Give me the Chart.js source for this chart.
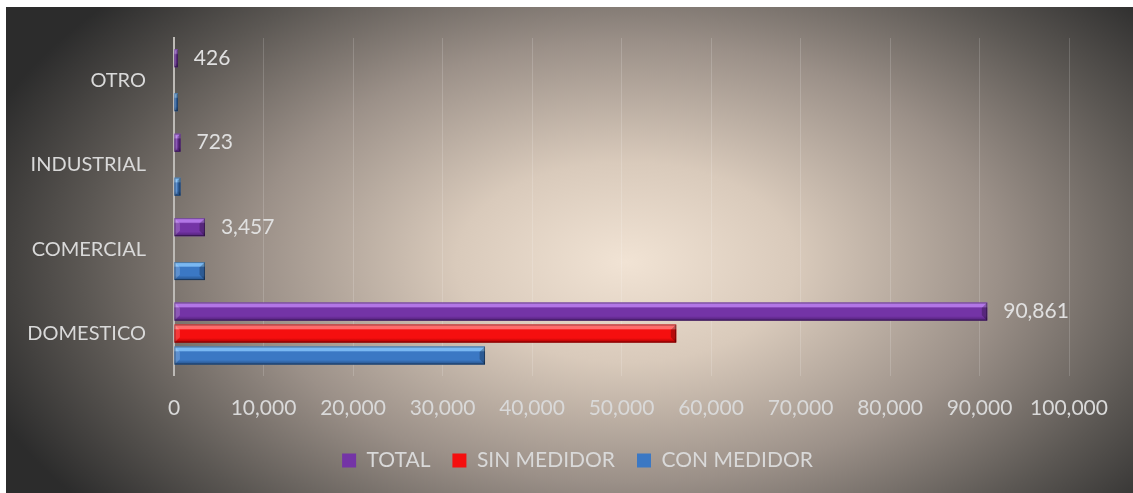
<!DOCTYPE html>
<html>
<head>
<meta charset="utf-8">
<script src="https://cdn.jsdelivr.net/npm/chart.js@4"></script>
<style>
  html, body { margin: 0; padding: 0; background: #ffffff; }
  #wrap { position: absolute; left: 6px; top: 7px; width: 1127px; height: 486px; }
</style>
</head>
<body>
<div id="wrap"><canvas id="c" width="1127" height="486"></canvas></div>
<script>
// ---- data ----
const categories = ['OTRO', 'INDUSTRIAL', 'COMERCIAL', 'DOMESTICO'];
const totalValues = [426, 723, 3457, 90861];
const sinMedidorValues = [0, 0, 0, 56111];
const conMedidorValues = [426, 723, 3457, 34750];
const xTickMin = 0;
const xTickMax = 100000;
const xTickStep = 10000;

const FONT = 'Lato, "Open Sans", sans-serif';
const TEXT = '#d9d9d9';

const palette = {
  TOTAL: { base: '#7434a6', light: '#b276e6', dark: '#4e1f74' },
  SIN: { base: '#f50f0f', light: '#ff6b6b', dark: '#a80000' },
  CON: { base: '#3b78c4', light: '#7ab8f2', dark: '#244f85' }
};

const bgPlugin = {
  id: 'bg',
  beforeDraw(chart) {
    const { ctx, width, height } = chart;
    ctx.save();
    const cx = 620, cy = 255, rx = 680, ry = 400;
    ctx.translate(cx, cy);
    ctx.scale(1, ry / rx);
    const g = ctx.createRadialGradient(0, 0, 0, 0, 0, rx);
    g.addColorStop(0, '#f1e3d4');
    g.addColorStop(0.25, '#d9cabb');
    g.addColorStop(0.55, '#9b9088');
    g.addColorStop(0.8, '#5b5753');
    g.addColorStop(1, '#2c2c2c');
    ctx.fillStyle = g;
    ctx.fillRect(-cx - 10, -(cy + 10) * rx / ry, width + 20, (height + 20) * rx / ry);
    ctx.restore();
  }
};

const legendShift = {
  id: 'legendShift',
  afterLayout(chart) {
    if (chart.legend) {
      chart.legend.left += 40;
      chart.legend.right += 40;
    }
  }
};

const bevelPlugin = {
  id: 'bevel',
  afterDatasetsDraw(chart) {
    const ctx = chart.ctx;
    chart.data.datasets.forEach((ds, di) => {
      const meta = chart.getDatasetMeta(di);
      const pal = ds._pal;
      meta.data.forEach((el) => {
        const p = el.getProps(['x', 'y', 'base', 'height'], true);
        const left = Math.min(p.base, p.x), right = Math.max(p.base, p.x);
        const top = p.y - p.height / 2, h = p.height;
        const w = right - left;
        if (w < 1) return;
        ctx.save();
        const g = ctx.createLinearGradient(0, top, 0, top + h);
        g.addColorStop(0, pal.light);
        g.addColorStop(0.22, pal.light);
        g.addColorStop(0.3, pal.base);
        g.addColorStop(0.75, pal.base);
        g.addColorStop(1, pal.dark);
        ctx.fillStyle = g;
        ctx.fillRect(left, top, w, h);
        const b = Math.min(h * 0.3, w / 2);
        ctx.fillStyle = 'rgba(255,255,255,0.18)';
        ctx.beginPath();
        ctx.moveTo(left, top); ctx.lineTo(left + b, top + b); ctx.lineTo(left + b, top + h - b); ctx.lineTo(left, top + h); ctx.closePath();
        ctx.fill();
        ctx.fillStyle = 'rgba(0,0,0,0.25)';
        ctx.beginPath();
        ctx.moveTo(right, top); ctx.lineTo(right - b, top + b); ctx.lineTo(right - b, top + h - b); ctx.lineTo(right, top + h); ctx.closePath();
        ctx.fill();
        ctx.strokeStyle = 'rgba(0,0,0,0.35)';
        ctx.lineWidth = 1;
        ctx.strokeRect(left + 0.5, top + 0.5, Math.max(w - 1, 0), h - 1);
        ctx.restore();
      });
    });
  }
};

const labelPlugin = {
  id: 'vals',
  afterDatasetsDraw(chart) {
    const ctx = chart.ctx;
    const meta = chart.getDatasetMeta(0);
    ctx.save();
    ctx.font = '21px ' + FONT;
    ctx.fillStyle = '#e0e0e0';
    ctx.textAlign = 'left';
    ctx.textBaseline = 'middle';
    meta.data.forEach((el, i) => {
      const p = el.getProps(['x', 'y'], true);
      ctx.fillText(totalValues[i].toLocaleString('en-US'), p.x + 16, p.y);
    });
    ctx.restore();
  }
};

new Chart(document.getElementById('c'), {
  type: 'bar',
  data: {
    labels: categories,
    datasets: [
      { label: 'TOTAL', data: totalValues, backgroundColor: palette.TOTAL.base, _pal: palette.TOTAL },
      { label: 'SIN MEDIDOR', data: sinMedidorValues, backgroundColor: palette.SIN.base, _pal: palette.SIN },
      { label: 'CON MEDIDOR', data: conMedidorValues, backgroundColor: palette.CON.base, _pal: palette.CON }
    ]
  },
  options: {
    indexAxis: 'y',
    responsive: false,
    animation: false,
    categoryPercentage: 0.78,
    barPercentage: 0.82,
    layout: { padding: { top: 31, right: 64, left: 0, bottom: 12 } },
    plugins: {
      legend: {
        position: 'bottom',
        labels: {
          color: TEXT,
          font: { family: FONT, size: 21 },
          boxWidth: 14,
          boxHeight: 14,
          padding: 22
        }
      },
      tooltip: { enabled: false }
    },
    scales: {
      x: {
        min: xTickMin,
        max: xTickMax,
        ticks: {
          stepSize: xTickStep,
          color: TEXT,
          font: { family: FONT, size: 21 },
          padding: 20,
          callback: (v) => Number(v).toLocaleString('en-US')
        },
        grid: { color: 'rgba(255,255,255,0.16)', lineWidth: 1, drawTicks: false },
        border: { display: false },
        afterFit(scale) { scale.height = scale.height - 13; }
      },
      y: {
        ticks: {
          color: TEXT,
          font: { family: FONT, size: 20 },
          padding: 20
        },
        grid: { display: false },
        border: { display: true, color: '#bdbab6', width: 2 },
        afterFit(scale) {
          scale.width = 168;
          scale.paddingTop = 0;
          scale.paddingBottom = 0;
        }
      }
    }
  },
  plugins: [bgPlugin, legendShift, bevelPlugin, labelPlugin]
});
</script>
</body>
</html>
